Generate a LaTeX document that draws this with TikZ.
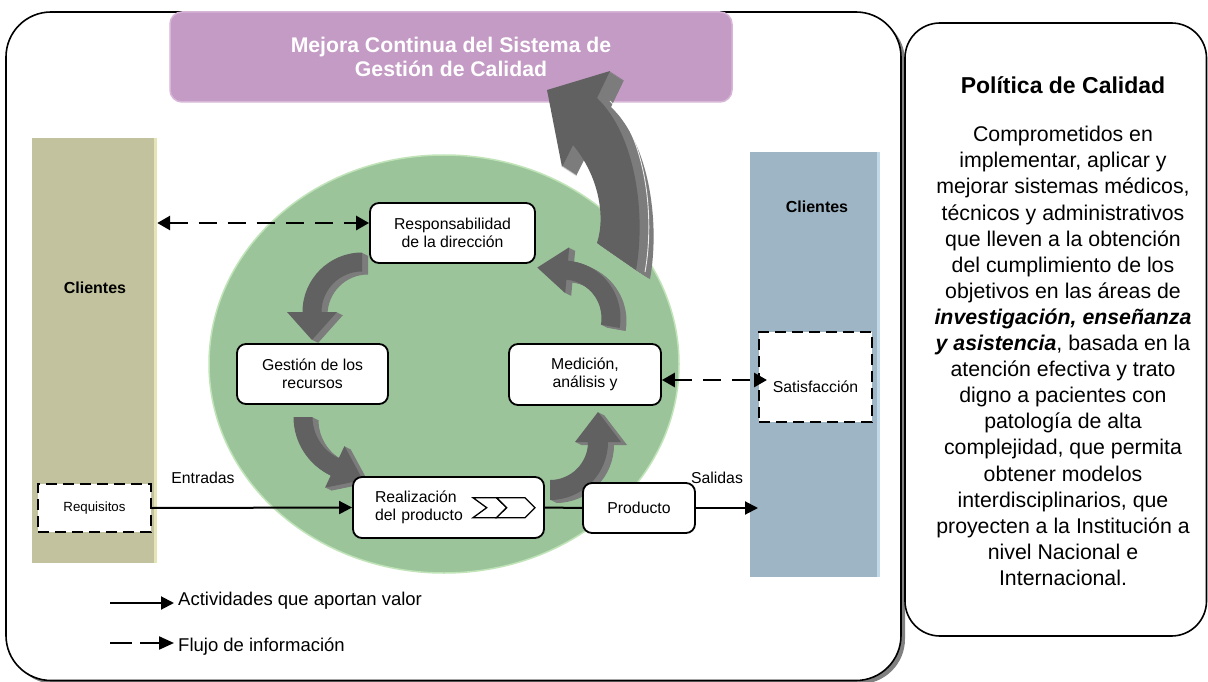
\documentclass[tikz,border=0pt]{standalone}
\usepackage{fontspec}
\setmainfont{Liberation Sans}
\usetikzlibrary{arrows.meta}
\definecolor{purp}{RGB}{196,155,197}
\definecolor{purpedge}{RGB}{216,182,216}
\definecolor{olivec}{RGB}{194,195,158}
\definecolor{oliveedge}{RGB}{228,228,182}
\definecolor{bluec}{RGB}{158,181,197}
\definecolor{blueedge}{RGB}{192,216,232}
\definecolor{greenc}{RGB}{155,196,155}
\definecolor{greenedge}{RGB}{192,228,184}
\definecolor{arrface}{RGB}{97,97,97}
\definecolor{arrside}{RGB}{124,124,124}
\definecolor{shadowc}{RGB}{128,128,128}
\newcommand{\nodefont}{\fontsize{15.8}{18.5}\selectfont}
% arc arrow: cx cy r halfwidth a1 ab tangentoffset headlength headhalfwidth
\newcommand{\arcpath}[9]{([shift={(#1,#2)}]{#5}:{#3+#4}) arc[start angle={#5}, end angle={#6}, radius={#3+#4}] -- ([shift={(#1,#2)}]{#6}:{#3+#9}) -- ([shift={(#1,#2)},shift={({#6}:{#3})}]{#6#7}:{#8}) -- ([shift={(#1,#2)}]{#6}:{#3-#9}) -- ([shift={(#1,#2)}]{#6}:{#3-#4}) arc[start angle={#6}, end angle={#5}, radius={#3-#4}] -- cycle}
\newcommand{\garrow}[9]{%
  \foreach \e in {6,5,...,1}{\fill[arrside, shift={(\e,0.5*\e)}] \arcpath{#1}{#2}{#3}{#4}{#5}{#6}{#7}{#8}{#9};}%
  \fill[arrface] \arcpath{#1}{#2}{#3}{#4}{#5}{#6}{#7}{#8}{#9};}
\newcommand{\bigarrowpath}{(597,243) -- (636,270) .. controls (646,215) and (636,135) .. (597,98) -- (610,71) -- (547,90) -- (562,167) -- (573,145) .. controls (598,175) and (606,215) .. (597,243) -- cycle}
\begin{document}
\begin{tikzpicture}[x=1pt,y=-1pt,
  box/.style={draw=black, line width=1.8pt, rounded corners=9pt, fill=white, align=center, inner sep=0pt, font=\nodefont},
  dbox/.style={draw=black, line width=2.2pt, dash pattern=on 11pt off 6pt, fill=white, inner sep=0pt},
  conn/.style={line width=2pt, -{Triangle[length=13pt,width=13pt]}},
  dconn/.style={line width=2.8pt, dash pattern=on 18pt off 11pt, >={Triangle[length=13pt,width=14pt]}, <->},
  lbl/.style={font=\nodefont, inner sep=0pt},
  colbox/.style={inner sep=0pt, draw=none}]
\useasboundingbox (0,0) rectangle (1208,682);
% outer frames
\fill[shadowc, rounded corners=45pt] (10,16) rectangle (905,684);
\draw[line width=1.6pt, fill=white, rounded corners=45pt] (6,12) rectangle (901,680.5);
\draw[line width=1.6pt, fill=white, rounded corners=35pt] (905,23) rectangle (1206.5,636);
% purple title
\node[fill=purp, draw=purpedge, line width=1.5pt, rounded corners=12pt, minimum width=562pt, minimum height=90pt,
  text=white, align=center, font=\bfseries\fontsize{21.2}{24.3}\selectfont, inner sep=0pt] (mejora) at (451,57)
  {Mejora Continua del Sistema de\\Gestión de Calidad};
% client columns
\node[colbox, fill=olivec, minimum width=125pt, minimum height=425pt] (lcol) at (94.5,350.5) {};
\fill[oliveedge] (154,138) rectangle (157,563);
\node[colbox, fill=bluec, minimum width=130pt, minimum height=425pt] (rcol) at (815,364.5) {};
\fill[blueedge] (877,152) rectangle (880,577);
\node[lbl, font=\bfseries\fontsize{16}{19}\selectfont] (lcl) at (95,288) {Clientes};
\node[lbl, font=\bfseries\fontsize{16}{19}\selectfont] (rcl) at (817,207) {Clientes};
% green circle
\fill[greenc] (444,364) ellipse[x radius=235, y radius=209];
\draw[greenedge, line width=1.5pt] (444,364) ellipse[x radius=235, y radius=209];
% big arrow
\foreach \e in {14,13,...,1}{\fill[arrside, shift={(\e,0.65*\e)}] \bigarrowpath;}
\fill[arrface] \bigarrowpath;
\draw[white, line width=0.9pt, opacity=0.85] (645,272) .. controls (655,217) and (646,137) .. (610,101);
% small cycle arrows
\garrow{362}{312}{50}{9.5}{270}{180}{-90}{28}{25}
\garrow{358}{417}{55}{9.5}{180}{115}{-90}{31}{23}
\garrow{550}{442}{48}{10}{90}{0}{-90}{30}{23}
\garrow{563}{318}{48}{9.5}{10}{-85}{-90}{30}{23}
% process nodes
\node[box, minimum width=165pt, minimum height=60pt] (resp) at (452.5,233) {Responsabilidad\\de la dirección};
\node[box, minimum width=151pt, minimum height=60pt] (gest) at (312.5,374) {Gestión de los\\recursos};
\node[box, minimum width=152pt, minimum height=61pt] (med) at (585,374.5) {Medición,\\análisis y};
\node[box, align=left, text width=147pt, inner xsep=22pt, minimum height=61pt] (real) at (448.5,507.5) {Realización\\del producto};
\node[box, minimum width=112pt, minimum height=50pt] (prod) at (639,508) {Producto};
\draw[line width=1.3pt, fill=white, line join=miter] (473,497.7) -- (496.5,497.7) -- (506.7,507.7) -- (496.5,517.7) -- (473,517.7) -- (486.7,507.7) -- cycle;
\draw[line width=1.3pt, fill=white, line join=miter] (496.5,497.7) -- (525,497.7) -- (535,507.7) -- (525,517.7) -- (496.5,517.7) -- (506.7,507.7) -- cycle;
% dashed boxes
\node[dbox, minimum width=113pt, minimum height=48pt, font=\fontsize{13.3}{16}\selectfont] (req) at (94.5,508) {Requisitos};
\node[dbox, minimum width=113pt, minimum height=90pt] (sat) at (815.5,377) {};
\node[lbl] (sattext) at (815.5,387) {Satisfacción};
% connectors
\coordinate (dA) at ([yshift=10pt]resp.west);
\draw[dconn] (dA -| lcol.east) -- (dA);
\coordinate (dB) at ([yshift=-5.5pt]med.east);
\coordinate (satin) at (767,380);
\draw[dconn] (dB) -- (satin);
\draw[conn] (req.east) -- (real.west);
\draw[line width=2pt] (real.east) -- (prod.west);
\coordinate (outp) at (758,508);
\draw[conn] (prod.east) -- (outp);
\node[lbl, anchor=base] (entr) at (203,483.5) {Entradas};
\node[lbl, anchor=base] (sal) at (717,483) {Salidas};
% legend
\coordinate (l1a) at (110,603); \coordinate (l1b) at (174,603);
\coordinate (l2a) at (110,643); \coordinate (l2b) at (174,643);
\draw[conn] (l1a) -- (l1b);
\draw[line width=2.2pt, dash pattern=on 22pt off 8pt, -{Triangle[length=15pt,width=13pt]}] (l2a) -- (l2b);
\node[lbl, anchor=base west, font=\fontsize{18.5}{21}\selectfont] (leg1) at (178,605) {Actividades que aportan valor};
\node[lbl, anchor=base west, font=\fontsize{18.5}{21}\selectfont] (leg2) at (178,651) {Flujo de información};
% policy
\node[lbl, anchor=base, font=\bfseries\fontsize{23}{27}\selectfont] (poltitle) at (1063,93.5) {Política de Calidad};
\node[lbl, align=center, font=\fontsize{21.3}{26.1}\selectfont] (poltext) at (1063,356) {Comprometidos en\\implementar, aplicar y\\mejorar sistemas médicos,\\técnicos y administrativos\\que lleven a la obtención\\del cumplimiento de los\\objetivos en las áreas de\\{\bfseries\itshape investigación, enseñanza}\\{\bfseries\itshape y asistencia}, basada en la\\atención efectiva y trato\\digno a pacientes con\\patología de alta\\complejidad, que permita\\obtener modelos\\interdisciplinarios, que\\proyecten a la Institución a\\nivel Nacional e\\Internacional.};
\end{tikzpicture}
\end{document}
